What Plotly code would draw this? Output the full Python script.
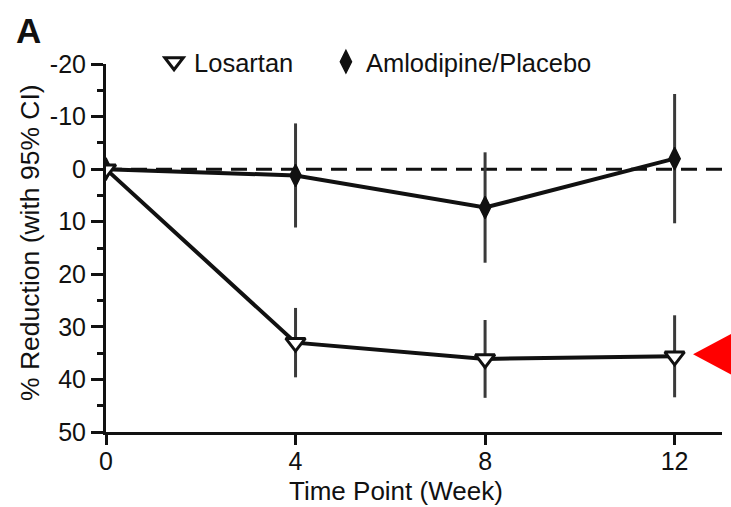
import plotly.graph_objects as go

# Study time points (weeks)
weeks = [0, 4, 8, 12]

# Mean % reduction and half-width of the 95% CI for each arm
losartan_mean = [0.0, 33.0, 36.1, 35.6]
losartan_ci = [0.0, 6.6, 7.4, 7.8]
amlodipine_mean = [0.0, 1.2, 7.3, -2.0]
amlodipine_ci = [0.0, 9.9, 10.5, 12.3]

# Axis ticks
y_tickvals = [-20, -10, 0, 10, 20, 30, 40, 50]
y_ticktext = ["-20", "-10", "0", "10", "20", "30", "40", "50"]
x_tickvals = [0, 4, 8, 12]

FONT = "Liberation Sans, Arial, sans-serif"
INK = "#111111"
BAR = "#3a3a3a"

losartan_marker = dict(symbol="triangle-down", size=17, color="white",
                       line=dict(color=INK, width=3))
amlodipine_marker = dict(symbol="diamond-tall", size=16, color=INK,
                         line=dict(color=INK, width=1.5))

fig = go.Figure()

# Connecting lines (kept out of the legend so the key shows symbols only)
fig.add_trace(go.Scatter(x=weeks, y=amlodipine_mean, mode="lines",
                         line=dict(color=INK, width=4), showlegend=False,
                         hoverinfo="skip"))
fig.add_trace(go.Scatter(x=weeks, y=losartan_mean, mode="lines",
                         line=dict(color=INK, width=4), showlegend=False,
                         hoverinfo="skip"))

# Means with 95% CI bars
fig.add_trace(go.Scatter(
    x=weeks, y=amlodipine_mean, name="Amlodipine/Placebo", mode="markers",
    marker=amlodipine_marker, legend="legend2",
    error_y=dict(type="data", array=amlodipine_ci, visible=True,
                 width=0, thickness=3, color=BAR),
))
fig.add_trace(go.Scatter(
    x=weeks, y=losartan_mean, name="Losartan", mode="markers",
    marker=losartan_marker, legend="legend",
    error_y=dict(type="data", array=losartan_ci, visible=True,
                 width=0, thickness=3, color=BAR),
))

# Dashed reference line at zero change
fig.add_shape(type="line", xref="x", yref="y", x0=0, x1=13, y0=0, y1=0,
              line=dict(color=INK, width=3, dash="16px,9px"), layer="below")

# Red pointer at the final losartan value
tip_y = losartan_mean[-1] - 0.4
fig.add_shape(
    type="path", xref="paper", yref="y",
    path=f"M 0.953,{tip_y} L 1.03,{tip_y - 4.8} L 1.03,{tip_y + 4.8} Z",
    fillcolor="#ff0000", line=dict(width=0),
)

# Axis titles and panel letter
fig.add_annotation(text="Time Point (Week)", xref="paper", yref="paper",
                   x=0.4708, y=-0.1590, xanchor="center", yanchor="middle",
                   showarrow=False, font=dict(family=FONT, size=26, color=INK))
fig.add_annotation(text="% Reduction (with 95% CI)", xref="paper", yref="paper",
                   x=-0.1234, y=0.5163, xanchor="center", yanchor="middle",
                   textangle=-90, showarrow=False,
                   font=dict(family=FONT, size=26.5, color=INK))
fig.add_annotation(text="<b>A</b>", xref="paper", yref="paper",
                   x=-0.150, y=1.0897, xanchor="left", yanchor="middle",
                   showarrow=False, font=dict(family=FONT, size=35, color=INK))

legend_common = dict(orientation="h", y=1.005, xanchor="left",
                     yanchor="middle", bgcolor="rgba(0,0,0,0)",
                     font=dict(family=FONT, size=25.5, color=INK),
                     itemsizing="trace")

fig.update_layout(
    width=731, height=507,
    margin=dict(l=106, r=9, t=64, b=75),
    paper_bgcolor="white", plot_bgcolor="white",
    font=dict(family=FONT, size=25, color=INK),
    showlegend=True,
    legend=dict(x=0.078, **legend_common),
    legend2=dict(x=0.357, **legend_common),
)

fig.update_xaxes(
    range=[0, 13], tickvals=x_tickvals, showgrid=False, zeroline=False,
    showline=True, linecolor=INK, linewidth=3,
    ticks="outside", ticklen=10, tickwidth=3, tickcolor=INK,
    tickfont=dict(family=FONT, size=25, color=INK),
    ticklabelstandoff=-5,
)
fig.update_yaxes(
    range=[50, -20], tickvals=y_tickvals, ticktext=y_ticktext,
    showgrid=False, zeroline=False,
    showline=True, linecolor=INK, linewidth=3,
    ticks="outside", ticklen=12, tickwidth=3, tickcolor=INK,
    tickfont=dict(family=FONT, size=25, color=INK),
    ticklabelstandoff=0,
    minor=dict(tickvals=[-15, -5, 5, 15, 25, 35, 45], ticks="outside",
               ticklen=6, tickwidth=3, tickcolor=INK, showgrid=False),
)

fig.write_html("out.html")
